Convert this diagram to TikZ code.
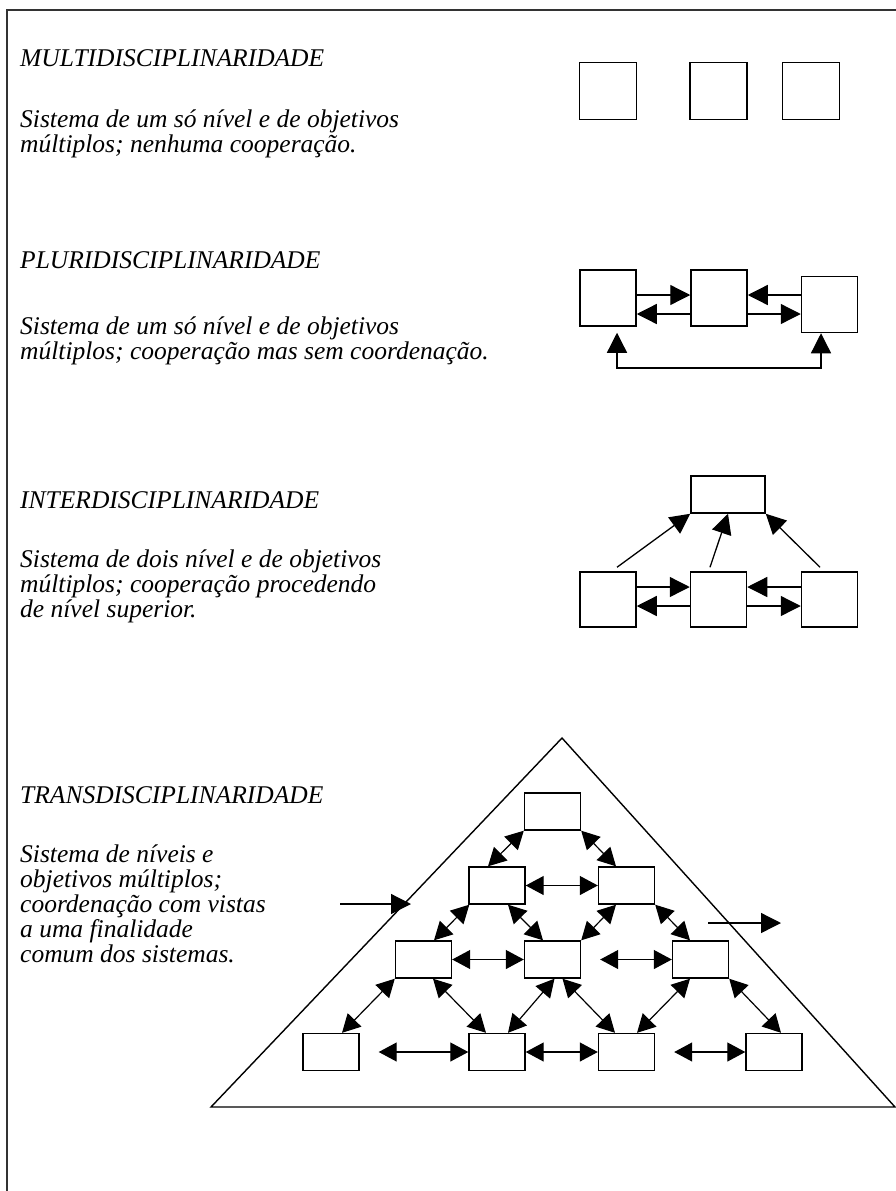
\documentclass[tikz,border=0pt]{standalone}
\usepackage{fontspec}
\setmainfont{Liberation Serif}
\usetikzlibrary{arrows.meta}

\begin{document}
\begin{tikzpicture}[x=1pt,y=-1pt,
  caixa/.style={draw, line width=1.5pt, inner sep=0pt, minimum width=57pt, minimum height=57pt},
  tijolo/.style={draw, line width=1.4pt, inner sep=0pt, minimum width=56pt, minimum height=37pt},
  seta/.style={line width=1.3pt, -{Triangle[length=20pt,width=20pt]}},
  duas/.style={line width=1.2pt, {Triangle[length=18pt,width=19pt]}-{Triangle[length=18pt,width=19pt]}},
  titulo/.style={anchor=base west, inner sep=0pt, font=\itshape\fontsize{25.5}{25}\selectfont},
  texto/.style={anchor=base west, inner sep=0pt, align=left, font=\itshape\fontsize{25.5}{25}\selectfont}]
\useasboundingbox (0,0) rectangle (896,1191);
\draw [line width=1.6pt, black!80] (7,1191) -- (7,10) -- (896,10);

% texts on the left (placed at the baseline of the last line)
\node[titulo] (multi) at (20,66) {MULTIDISCIPLINARIDADE};
\node[texto] (multitxt) at (20,152) {Sistema de um só nível e de objetivos\\múltiplos; nenhuma cooperação.};
\node[titulo] (pluri) at (20,268) {PLURIDISCIPLINARIDADE};
\node[texto] (pluritxt) at (20,359) {Sistema de um só nível e de objetivos\\múltiplos; cooperação mas sem coordenação.};
\node[titulo] (inter) at (20,508) {INTERDISCIPLINARIDADE};
\node[texto] (intertxt) at (20,617) {Sistema de dois nível e de objetivos\\múltiplos; cooperação procedendo\\de nível superior.};
\node[titulo] (trans) at (20,803) {TRANSDISCIPLINARIDADE};
\node[texto] (transtxt) at (20,962) {Sistema de níveis e\\objetivos múltiplos;\\coordenação com vistas\\a uma finalidade\\comum dos sistemas.};

% multi
\foreach \nome/\x in {m1/608, m2/718.5, m3/811} {
    \node[caixa] (\nome) at (\x,91) {};
}

% pluri
\node[caixa, minimum width=56pt, minimum height=56pt] (p1) at (608,298) {};
\node[caixa, minimum width=56pt, minimum height=56pt] (p2) at (719,298) {};
\node[caixa, minimum width=56pt, minimum height=56pt] (p3) at (829.5,304.5) {};
\draw [seta] ([yshift=3pt]p1.east) -- ([yshift=3pt]p2.west);
\draw [seta] ([yshift=-16pt]p2.west) -- ([yshift=-16pt]p1.east);
\draw [seta] ([yshift=9.5pt]p3.west) -- ([yshift=3pt]p2.east);
\draw [seta] ([yshift=-16pt]p2.east) -- ([yshift=-9.5pt]p3.west);
\coordinate (pbase) at (719,368);
\draw [line width=1.3pt, {Triangle[length=20pt,width=20pt]}-{Triangle[length=20pt,width=20pt]}]
    ([xshift=9pt,yshift=-6pt]p1.south) |- (pbase) -| ([xshift=-8.5pt]p3.south);

% inter
\node[tijolo, line width=1.5pt, minimum width=74pt] (i0) at (728,494.5) {};
\foreach \nome/\x in {i1/608, i2/718.5, i3/829.5} {
    \node[caixa, minimum width=56pt, minimum height=55pt] (\nome) at (\x,599.5) {};
}
\draw [seta] ([yshift=12.5pt]i1.east) -- ([yshift=12.5pt]i2.west);
\draw [seta] ([yshift=-6.5pt]i2.west) -- ([yshift=-6.5pt]i1.east);
\draw [seta] ([yshift=12.5pt]i3.west) -- ([yshift=12.5pt]i2.east);
\draw [seta] ([yshift=-6.5pt]i2.east) -- ([yshift=-6.5pt]i3.west);
\draw [seta] ([xshift=9pt,yshift=4pt]i1.north) -- (i0.south west);
\draw [seta] ([xshift=-8.5pt,yshift=4pt]i2.north) -- (i0.south);
\draw [seta] ([xshift=-9.5pt,yshift=4pt]i3.north) -- (i0.south east);

% trans: pyramid
\draw [line width=1.4pt] (562,738) -- (895,1107) -- (211,1107) -- cycle;
\foreach \nome/\x/\y in {t1/552.5/811.5, t2a/497/885.5, t2b/626.5/885.5,
    t3a/423.5/959.5, t3b/552.5/959.5, t3c/700.5/959.5,
    t4a/331/1052, t4b/497/1052, t4c/626.5/1052, t4d/774/1052} {
    \node[tijolo] (\nome) at (\x,\y) {};
}
\draw [duas] (t1.south west) -- ([xshift=-9pt]t2a.north);
\draw [duas] (t1.south east) -- ([xshift=-10.5pt]t2b.north);
\draw [duas] (t2a.east) -- (t2b.west);
\draw [duas] ([xshift=1pt]t2a.south west) -- ([xshift=10.5pt]t3a.north);
\draw [duas] ([xshift=11pt]t2a.south) -- ([xshift=-9.5pt]t3b.north);
\draw [duas] ([xshift=-10.5pt]t2b.south) -- (t3b.north east);
\draw [duas] (t2b.south east) -- ([xshift=-10.5pt]t3c.north);
\draw [duas] (t3a.east) -- (t3b.west);
\draw [duas] ([xshift=19pt]t3b.east) -- (t3c.west);
\draw [duas] (t3a.south west) -- ([xshift=11pt]t4a.north);
\draw [duas] ([xshift=9.5pt]t3a.south) -- ([xshift=-11pt]t4b.north);
\draw [duas] ([xshift=2pt]t3b.south) -- ([xshift=11pt]t4b.north);
\draw [duas] ([xshift=10pt]t3b.south) -- ([xshift=-11.5pt]t4c.north);
\draw [duas] ([xshift=-10.5pt]t3c.south) -- ([xshift=10.5pt]t4c.north);
\draw [duas] (t3c.south east) -- ([xshift=7pt]t4d.north);
\draw [duas] ([xshift=19pt]t4a.east) -- (t4b.west);
\draw [duas] (t4b.east) -- (t4c.west);
\draw [duas] ([xshift=19pt]t4c.east) -- (t4d.west);

% in and out
\coordinate (entra) at (340,904);
\coordinate (entrafim) at (411,904);
\coordinate (sai) at (708,923);
\coordinate (saifim) at (781,923);
\draw [seta] (entra) -- (entrafim);
\draw [seta] (sai) -- (saifim);
\end{tikzpicture}
\end{document}
